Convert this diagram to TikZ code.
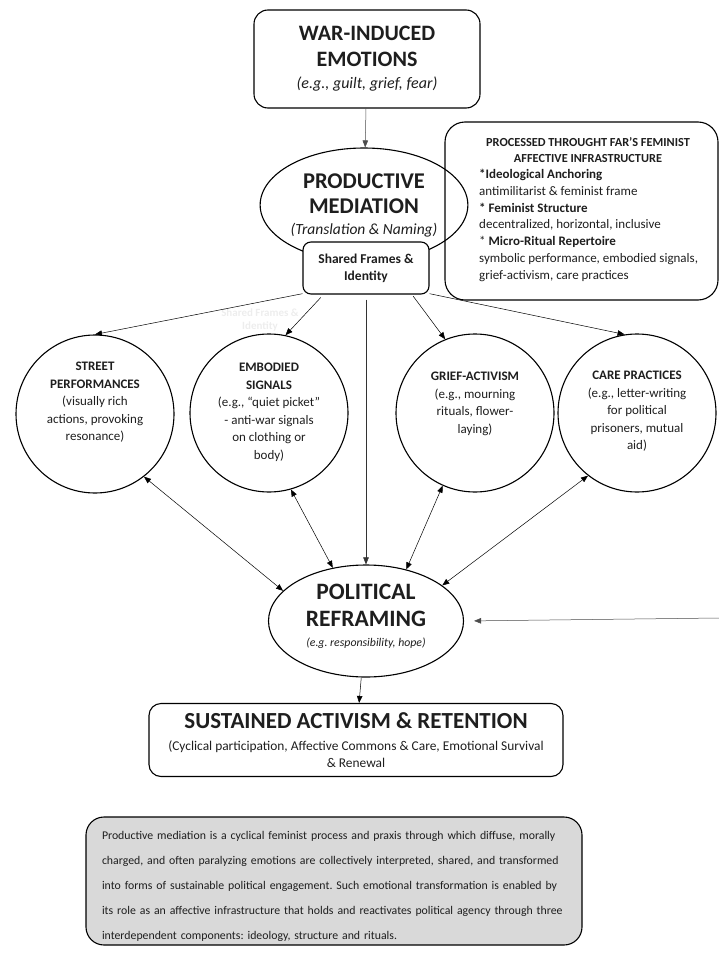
\documentclass[tikz,border=0pt]{standalone}
\usepackage{fontspec}
\setmainfont{Carlito}
\usetikzlibrary{arrows.meta, positioning, shapes.geometric, calc}
\definecolor{boxgray}{RGB}{217,217,217}
\definecolor{ink}{RGB}{30,30,30}
\newcommand{\subit}[1]{\normalfont\fontsize{#1}{19}\selectfont\itshape}
\frenchspacing

\begin{document}
\begin{tikzpicture}[
    x=1pt, y=-1pt,
    box/.style={draw, rounded corners=14pt, line width=1.1pt, align=center, text=ink, inner sep=0pt},
    oval/.style={draw, ellipse, line width=1.1pt, align=center, text=ink, inner sep=0pt},
    circ/.style={draw, circle, line width=1.1pt, minimum size=158pt, inner sep=0pt},
    ctext/.style={anchor=north, align=center, inner sep=0pt, font=\fontsize{13}{17.5}\selectfont, text=ink},
    arr/.style={-{Triangle[length=7pt,width=5.5pt]}, line width=0.5pt},
    darr/.style={{Triangle[length=7pt,width=5.5pt]}-{Triangle[length=7pt,width=5.5pt]}, line width=0.5pt},
]
\useasboundingbox (0,0) rectangle (719,955);

% top: emotions and mediation
\node[box, minimum width=226pt, minimum height=98pt, font=\fontsize{22}{26}\selectfont\bfseries] (war) at (367,59)
    {WAR-INDUCED\\EMOTIONS\\[-4pt] \subit{16}(e.g., guilt, grief, fear)};
\node[oval, minimum width=192pt, minimum height=114pt, font=\fontsize{22.5}{25}\selectfont\bfseries] (mediation) at (364,205)
    {PRODUCTIVE\\MEDIATION\\[-4pt] \subit{15.5}(Translation \& Naming)};
\node[box, rounded corners=8pt, fill=white, minimum width=126pt, minimum height=52pt,
    font=\fontsize{13.5}{17}\selectfont\bfseries] (shared) at (366,268) {Shared Frames \&\\Identity};
\node[align=center, text=black!7, font=\fontsize{11}{13}\selectfont\bfseries] (ghost) at (260,320)
    {Shared Frames \&\\Identity};

% infrastructure box
\node[draw, rounded corners=20pt, line width=1.1pt, minimum width=273pt, minimum height=178pt] (infra) at (581.5,211) {};
\node[anchor=north, align=center, inner sep=0pt, text=ink, font=\fontsize{12.3}{16.5}\selectfont\bfseries] (infrahead) at (588,137)
    {PROCESSED THROUGHT FAR’S FEMINIST\\AFFECTIVE INFRASTRUCTURE};
\node[anchor=north west, align=left, inner sep=0pt, text=ink, font=\fontsize{13}{16.8}\selectfont] (infrabody) at (479,169)
    {\textbf{*Ideological Anchoring}\\
     antimilitarist \& feminist frame\\
     \textbf{* Feminist Structure}\\
     decentralized, horizontal, inclusive\\
     * \textbf{Micro-Ritual Repertoire}\\
     symbolic performance, embodied signals,\\
     grief-activism, care practices};

% ritual circles
\node[circ] (street) at (95,414) {};
\node[circ] (embodied) at (269,413) {};
\node[circ] (grief) at (475,413) {};
\node[circ] (care) at (637,413) {};
\node[ctext] (streettxt) at (95,362)
    {\textbf{STREET}\\\textbf{PERFORMANCES}\\(visually rich\\actions, provoking\\resonance)};
\node[ctext] (embodiedtxt) at (269,363)
    {\textbf{EMBODIED}\\\textbf{SIGNALS}\\(e.g., “quiet picket”\\- anti-war signals\\on clothing or\\body)};
\node[ctext] (grieftxt) at (475,372)
    {\textbf{GRIEF-ACTIVISM}\\(e.g., mourning\\rituals, flower-\\laying)};
\node[ctext] (caretxt) at (637,371)
    {\textbf{CARE PRACTICES}\\(e.g., letter-writing\\for political\\prisoners, mutual\\aid)};

% reframing and outcome
\node[oval, minimum width=195pt, minimum height=112pt, font=\fontsize{23.5}{27}\selectfont\bfseries] (reframing) at (366,621)
    {POLITICAL\\REFRAMING\\[-7pt] \subit{11.8}(e.g. responsibility, hope)\rule[-12pt]{0pt}{12pt}};
\node[box, rounded corners=12pt, minimum width=414pt, minimum height=73pt, font=\fontsize{13.4}{17}\selectfont] (sustained) at (356,740)
    {\fontsize{23}{26}\selectfont\bfseries SUSTAINED ACTIVISM \& RETENTION\\[5pt]
     (Cyclical participation, Affective Commons \& Care, Emotional Survival\\
     \& Renewal};
\coordinate (feedback) at (719,618);

% definition
\node[draw, rounded corners=18pt, line width=1.1pt, fill=boxgray, text=ink, text width=464pt,
    minimum height=128pt, inner xsep=16pt, align=left, font=\fontsize{11.8}{25}\selectfont] (definition) at (334,881)
    {\rule{0pt}{19pt}Productive mediation is a cyclical feminist process and praxis through which diffuse, morally\\
     charged, and often paralyzing emotions are collectively interpreted, shared, and transformed\\
     into forms of sustainable political engagement. Such emotional transformation is enabled by\\
     its role as an affective infrastructure that holds and reactivates political agency through three\\
     interdependent components: ideology, structure and rituals.};

% connectors
\draw[arr, black!70] (war) -- (mediation);
\draw[arr] (shared.-158) -- (street.north);
\draw[arr, shorten <=4pt] (shared.-148) -- (embodied.78);
\draw[arr, shorten <=2pt] (shared.-30) -- (grief.112);
\draw[arr] (shared.-22) -- (care.99);
\draw[arr, black!80, shorten <=5pt] (shared.south) -- (reframing.north);
\draw[darr] (reframing.160) -- (street.-52);
\draw[darr] (reframing.122) -- (embodied.-74);
\draw[darr] (reframing.52) -- (grief.-114);
\draw[darr] (reframing.25) -- (care.-128);
\draw[arr, black!70, shorten >=10pt] (feedback) -- (reframing.east);
\draw[arr] (reframing) -- (sustained);

\end{tikzpicture}
\end{document}
